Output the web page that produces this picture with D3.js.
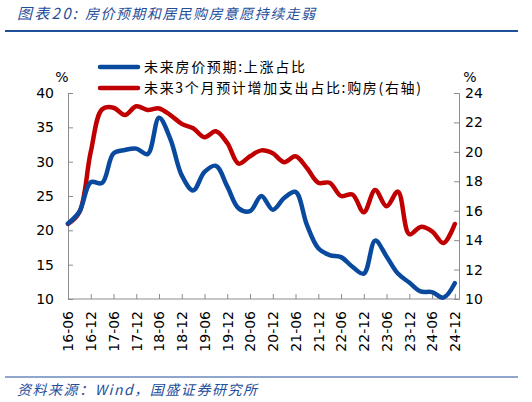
<!DOCTYPE html>
<html>
<head>
<meta charset="utf-8">
<script src="https://cdn.jsdelivr.net/npm/d3@7"></script>
<style>
  body { margin: 0; background: #fff; }
  text { font-family: "DejaVu Sans", "Noto Sans CJK SC", sans-serif; }
</style>
</head>
<body>
<svg width="532" height="402"></svg>
<script>
// quarterly points, 16-06 .. 24-12
var quarters = [];
for (var yy = 16; yy <= 24; yy++) {
    ['03', '06', '09', '12'].forEach(function(m) {
        if (!(yy == 16 && m == '03')) quarters.push(yy + '-' + m);
    });
}

// 未来房价预期:上涨占比 (left axis)
var priceUp = [21.0, 22.7, 27.0, 26.9, 31.2, 31.7, 31.9, 31.1, 36.4, 33.3,
               28.0, 25.8, 28.5, 29.4, 26.4, 23.2, 22.8, 25.0, 23.0, 24.7,
               25.6, 20.8, 17.4, 16.4, 16.1, 14.7, 13.7, 18.5, 16.2, 13.7,
               12.4, 11.1, 11.0, 10.2, 12.3];
// 未来3个月预计增加支出占比:购房 (right axis)
var buyHouse = [15.1, 15.9, 20.0, 22.9, 23.0, 22.5, 23.1, 22.85, 22.95, 22.5,
                21.9, 21.6, 21.0, 21.4, 20.6, 19.2, 19.7, 20.1, 19.9, 19.3,
                19.7, 18.9, 17.9, 17.9, 17.0, 17.1, 15.9, 17.4, 16.3, 17.3,
                14.4, 14.9, 14.6, 13.8, 15.1];

var leftTicks = [10, 15, 20, 25, 30, 35, 40];
var rightTicks = [10, 12, 14, 16, 18, 20, 22, 24];
var seriesNames = ['未来房价预期:上涨占比', '未来3个月预计增加支出占比:购房(右轴)'];
var colors = ['#0a4a9e', '#c00000'];

var pLeft = 68, pRight = 459, pTop = 93, pBottom = 299;
var svg = d3.select('svg');

var x = d3.scalePoint().domain(quarters).range([pLeft, 454.8]);
var yL = d3.scaleLinear().domain([10, 40]).range([pBottom, pTop]);
var yR = d3.scaleLinear().domain([10, 24]).range([pBottom, pTop]);

// title + rules
var blueText = '#1f4e9a';
svg.append('text')
    .attr('x', 17).attr('y', 19)
    .attr('font-size', 15).attr('font-style', 'italic')
    .attr('fill', blueText)
    .attr('textLength', 60).attr('lengthAdjust', 'spacing')
    .style('font-family', '"Noto Sans CJK SC", sans-serif')
    .text('图表20:');
svg.append('text')
    .attr('x', 85).attr('y', 19)
    .attr('font-size', 14).attr('font-style', 'italic')
    .attr('fill', blueText)
    .attr('textLength', 230).attr('lengthAdjust', 'spacing')
    .style('font-family', '"Noto Sans CJK SC", sans-serif')
    .text('房价预期和居民购房意愿持续走弱');
svg.append('line')
    .attr('x1', 5).attr('x2', 518).attr('y1', 31).attr('y2', 31)
    .attr('stroke', '#1f4e9a').attr('stroke-width', 2.2);
svg.append('line')
    .attr('x1', 5).attr('x2', 518).attr('y1', 377).attr('y2', 377)
    .attr('stroke', '#1f4e9a').attr('stroke-width', 1);
svg.append('text')
    .attr('x', 17).attr('y', 395)
    .attr('font-size', 14).attr('font-style', 'italic')
    .attr('fill', blueText)
    .attr('textLength', 240).attr('lengthAdjust', 'spacing')
    .style('font-family', '"Noto Sans CJK SC", sans-serif')
    .text('资料来源：Wind，国盛证券研究所');

// axes
var axisColor = '#8c8c8c';
var gl = svg.append('g').attr('transform', 'translate(' + pLeft + ',0)')
    .call(d3.axisRight(yL).tickValues(leftTicks).tickSize(5));
gl.selectAll('text').attr('text-anchor', 'end').attr('x', -14);
var gr = svg.append('g').attr('transform', 'translate(' + pRight + ',0)')
    .call(d3.axisLeft(yR).tickValues(rightTicks).tickSize(5));
gr.selectAll('text').attr('text-anchor', 'start').attr('x', 6);
var gx = svg.append('g').attr('transform', 'translate(0,' + pBottom + ')')
    .call(d3.axisTop(x).tickValues(quarters.filter(function(q, i) { return i % 2 == 0; })).tickSize(5));
gx.selectAll('text')
    .attr('transform', 'rotate(-90)')
    .attr('text-anchor', 'end')
    .attr('x', -12).attr('y', 0).attr('dy', '0.35em');
gx.select('.domain').attr('d', 'M' + pLeft + ',0H' + pRight);

[gl, gr, gx].forEach(function(g) {
    g.selectAll('.domain').attr('stroke', axisColor);
    g.selectAll('.tick line').attr('stroke', axisColor);
    g.selectAll('text').attr('font-size', 14).attr('fill', '#000')
        .style('font-family', '"DejaVu Sans", sans-serif');
});

svg.append('text').attr('x', 62).attr('y', 82).attr('font-size', 14)
    .attr('text-anchor', 'middle').text('%');
svg.append('text').attr('x', 470).attr('y', 82).attr('font-size', 14)
    .attr('text-anchor', 'middle').text('%');

// lines
var lineL = d3.line()
    .x(function(d, i) { return x(quarters[i]); })
    .y(function(d) { return yL(d); })
    .curve(d3.curveCatmullRom.alpha(0.5));
var lineR = d3.line()
    .x(function(d, i) { return x(quarters[i]); })
    .y(function(d) { return yR(d); })
    .curve(d3.curveCatmullRom.alpha(0.5));

svg.append('path').datum(buyHouse)
    .attr('d', lineR).attr('fill', 'none')
    .attr('stroke', colors[1]).attr('stroke-width', 4.5)
    .attr('stroke-linejoin', 'round').attr('stroke-linecap', 'round');
svg.append('path').datum(priceUp)
    .attr('d', lineL).attr('fill', 'none')
    .attr('stroke', colors[0]).attr('stroke-width', 4.5)
    .attr('stroke-linejoin', 'round').attr('stroke-linecap', 'round');

// legend
var legendWidths = [161, 277];
var legend = svg.selectAll('g.legend').data(seriesNames).enter()
    .append('g').attr('class', 'legend')
    .attr('transform', function(d, i) { return 'translate(100,' + (67 + i * 21) + ')'; });
legend.append('line')
    .attr('x1', 0).attr('x2', 38)
    .attr('stroke', function(d, i) { return colors[i]; })
    .attr('stroke-width', 4.5).attr('stroke-linecap', 'round');
legend.append('text')
    .attr('x', 44).attr('dy', '0.36em')
    .attr('font-size', 14)
    .attr('textLength', function(d, i) { return legendWidths[i]; })
    .attr('lengthAdjust', 'spacing')
    .style('font-family', '"Noto Sans CJK SC", sans-serif')
    .text(function(d) { return d; });
</script>
</body>
</html>
